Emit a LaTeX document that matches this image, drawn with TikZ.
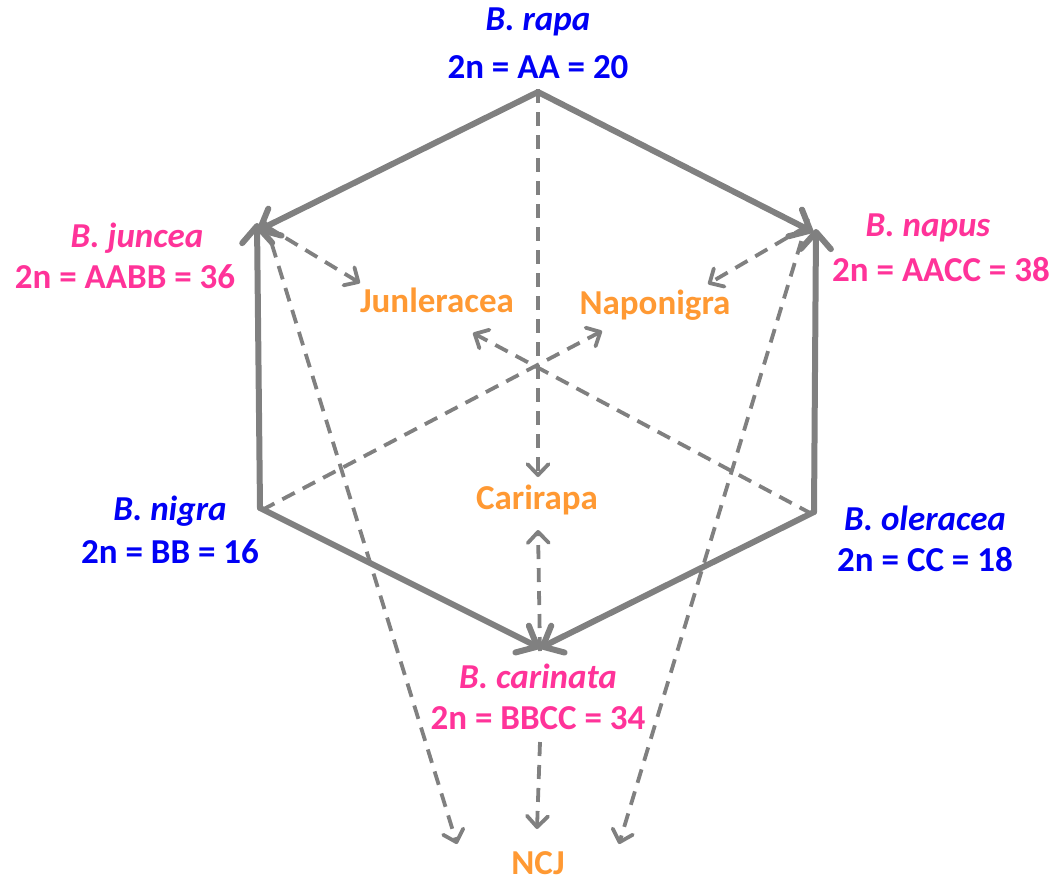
\documentclass[tikz,border=0pt]{standalone}
\usepackage{fontspec}
\setmainfont{Carlito}
\usetikzlibrary{arrows.meta}
\definecolor{edgegray}{RGB}{128,128,128}
\definecolor{dipblue}{RGB}{0,0,245}
\definecolor{polypink}{RGB}{255,51,153}
\definecolor{hyborange}{RGB}{255,153,51}
\begin{document}
\begin{tikzpicture}[x=1pt,y=-1pt,
  lbl/.style={font=\fontsize{35}{40}\selectfont\bfseries, inner sep=0pt, anchor=center},
  sp/.style={lbl, font=\fontsize{35}{40}\selectfont\bfseries\itshape},
  dip/.style={text=dipblue},
  poly/.style={text=polypink},
  hyb/.style={lbl, text=hyborange},
  solidarrow/.style={draw=edgegray, line width=6pt, line cap=round,
    -{Straight Barb[length=17pt,width=30pt,line width=6pt,round]}},
  dasharrow/.style={draw=edgegray, line width=3.8pt, dash pattern=on 14pt off 9pt,
    -{Straight Barb[length=11pt,width=21pt,line width=3.8pt,round]}}]
\useasboundingbox (0,0) rectangle (1059,883);

% hexagon corners
\coordinate (rapa) at (538,92);
\coordinate (juncea) at (257,231);
\coordinate (napus) at (813,232);
\coordinate (nigra) at (260,508);
\coordinate (oleracea) at (814,512);
\coordinate (carinata) at (540,648);

% labels of the species
\node[sp,dip] (rapaN) at (538,22) {B. rapa};
\node[lbl,dip] (rapaC) at (538,67) {2n = AA = 20};
\node[sp,poly] (junceaN) at (137,238) {B. juncea};
\node[lbl,poly] (junceaC) at (125,277) {2n = AABB = 36};
\node[sp,poly] (napusN) at (928,228) {B. napus};
\node[lbl,poly] (napusC) at (941,270) {2n = AACC = 38};
\node[sp,dip] (nigraN) at (170,511) {B. nigra};
\node[lbl,dip] (nigraC) at (170,552) {2n = BB = 16};
\node[sp,dip] (oleraceaN) at (925,518) {B. oleracea};
\node[lbl,dip] (oleraceaC) at (925,560) {2n = CC = 18};
\node[sp,poly] (carinataN) at (538,676) {B. carinata};
\node[lbl,poly] (carinataC) at (538,718) {2n = BBCC = 34};

% synthetic hybrids
\node[hyb] (junl) at (437,300) {Junleracea};
\node[hyb] (napo) at (655,305) {Naponigra};
\node[hyb] (cari) at (537,500) {Carirapa};
\node[hyb] (ncj) at (538,863) {NCJ};

% arrow end points near the hybrids
\coordinate (junlIn) at (360,283);
\coordinate (napoIn) at (708,284);
\coordinate (napoCross) at (602,331);
\coordinate (junlCross) at (473,333);
\coordinate (cariTop) at (538,477);
\coordinate (cariBot) at (538,530);
\coordinate (ncjL) at (457,844);
\coordinate (ncjM) at (537,829);
\coordinate (ncjR) at (619,844);
\coordinate (carinataBelow) at (540,742);

% natural hybridisations (triangle of U)
\draw[solidarrow] (rapa) -- (juncea);
\draw[solidarrow] (rapa) -- (napus);
\draw[solidarrow] (nigra) -- ([yshift=8pt]juncea.center);
\draw[solidarrow] (oleracea) -- ([xshift=3pt,yshift=3pt]napus.center);
\draw[solidarrow] (nigra) -- (carinata);
\draw[solidarrow] (oleracea) -- (carinata);

% resynthesis routes
\draw[dasharrow] ([yshift=3pt]rapa.center) -- (cariTop);
\draw[dasharrow] ([yshift=-3pt]carinata.center) -- (cariBot);
\draw[dasharrow] (carinataBelow) -- (ncjM);
\draw[dasharrow] ([xshift=9pt,yshift=5pt]juncea.center) -- (junlIn);
\draw[dasharrow] ([xshift=8pt,yshift=9pt]juncea.center) -- (ncjL);
\draw[dasharrow] ([xshift=-6pt,yshift=6pt]napus.center) -- (napoIn);
\draw[dasharrow] ([xshift=-5pt,yshift=13pt]napus.center) -- (ncjR);
\draw[dasharrow] ([xshift=2pt,yshift=-2pt]nigra.center) -- (napoCross);
\draw[dasharrow] ([xshift=-2pt,yshift=-2pt]oleracea.center) -- (junlCross);
\end{tikzpicture}
\end{document}
